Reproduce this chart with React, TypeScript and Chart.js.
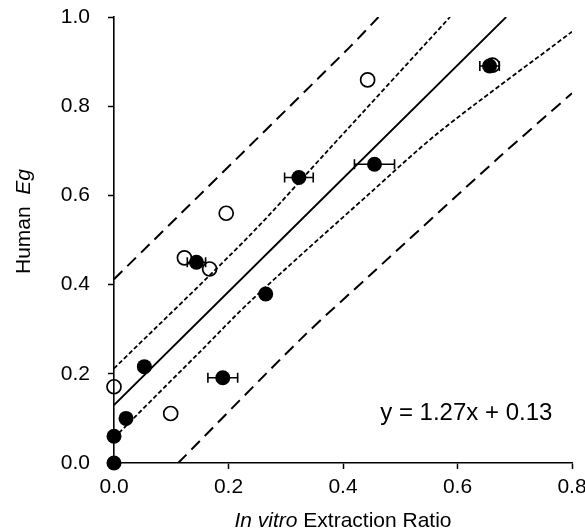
import { useEffect, useRef } from "react";
import { Chart, registerables } from "chart.js";

Chart.register(...registerables);

// Measured data (In vitro extraction ratio vs human Eg)
const filledX = [0, 0.0, 0.021, 0.053, 0.19, 0.265, 0.144, 0.323, 0.455, 0.656];
const filledY = [0, 0.06, 0.1, 0.216, 0.191, 0.379, 0.45, 0.64, 0.67, 0.89];
const filledXErr = [0, 0, 0, 0, 0.026, 0, 0.016, 0.025, 0.035, 0.017];
const openX = [0.0, 0.099, 0.123, 0.167, 0.196, 0.443, 0.661];
const openY = [0.171, 0.111, 0.46, 0.435, 0.56, 0.859, 0.892];

// Regression line and bands
const fitX = [0, 0.685];
const fitY = [0.13, 1.0];
const upperCIX = [0, 0.2376, 0.3773, 0.587];
const upperCIY = [0.212, 0.511, 0.706, 1.0];
const lowerCIX = [0, 0.034, 0.153, 0.2376, 0.447, 0.569, 0.8];
const lowerCIY = [0.056, 0.1, 0.253, 0.362, 0.605, 0.743, 0.967];
const upperPIX = [0, 0.4122, 0.462];
const upperPIY = [0.412, 0.933, 1.0];
const lowerPIX = [0.112, 0.328, 0.447, 0.674, 0.8];
const lowerPIY = [0, 0.28, 0.421, 0.687, 0.829];

const xTitleParts = [
  { text: "In vitro", italic: true },
  { text: " Extraction Ratio", italic: false },
];
const yTitleParts = [
  { text: "Human  ", italic: false },
  { text: "Eg", italic: true },
];
const equationText = "y = 1.27x + 0.13";
const equationPos = { x: 0.465, y: 0.0975 };

const FONT = 'Arial, "Liberation Sans", sans-serif';
const FS = 21;
const EQ_FS = 24;

const zip = (xs: number[], ys: number[]) => xs.map((x, i) => ({ x, y: ys[i] }));

function drawParts(ctx: CanvasRenderingContext2D, parts: { text: string; italic: boolean }[], cx: number, y: number) {
  let total = 0;
  const widths = parts.map((p) => {
    ctx.font = `${p.italic ? "italic " : ""}${FS}px ${FONT}`;
    const w = ctx.measureText(p.text).width;
    total += w;
    return w;
  });
  let x = cx - total / 2;
  parts.forEach((p, i) => {
    ctx.font = `${p.italic ? "italic " : ""}${FS}px ${FONT}`;
    ctx.fillText(p.text, x, y);
    x += widths[i];
  });
}

const errorBarPlugin = {
  id: "errorBars",
  beforeDatasetDraw(chart: any, args: any) {
    if (args.index !== 0) return;
    const ctx = chart.ctx;
    const xs = chart.scales.x;
    const ys = chart.scales.y;
    ctx.save();
    ctx.strokeStyle = "#000";
    ctx.lineWidth = 1.6;
    filledX.forEach((x, i) => {
      const e = filledXErr[i];
      if (!e) return;
      const y = ys.getPixelForValue(filledY[i]);
      const x1 = xs.getPixelForValue(x - e);
      const x2 = xs.getPixelForValue(x + e);
      ctx.beginPath();
      ctx.moveTo(x1, y);
      ctx.lineTo(x2, y);
      ctx.moveTo(x1, y - 5);
      ctx.lineTo(x1, y + 5);
      ctx.moveTo(x2, y - 5);
      ctx.lineTo(x2, y + 5);
      ctx.stroke();
    });
    ctx.restore();
  },
};

const textPlugin = {
  id: "texts",
  afterDraw(chart: any) {
    const ctx = chart.ctx;
    const ca = chart.chartArea;
    const xs = chart.scales.x;
    const ys = chart.scales.y;
    ctx.save();
    ctx.fillStyle = "#000";
    ctx.textBaseline = "alphabetic";
    ctx.textAlign = "left";
    // x title
    drawParts(ctx, xTitleParts, (ca.left + ca.right) / 2, chart.height - 5.5);
    // y title
    ctx.save();
    ctx.translate(30, 221.5);
    ctx.rotate(-Math.PI / 2);
    drawParts(ctx, yTitleParts, 0, 0);
    ctx.restore();
    // equation
    ctx.font = `${EQ_FS}px ${FONT}`;
    ctx.fillText(equationText, xs.getPixelForValue(equationPos.x), ys.getPixelForValue(equationPos.y));
    ctx.restore();
  },
};

export default function App() {
  const ref = useRef<HTMLCanvasElement | null>(null);
  useEffect(() => {
    if (!ref.current) return;
    Chart.defaults.font.family = FONT;
    Chart.defaults.font.size = FS;
    Chart.defaults.color = "#000";
    const lineDs = (xs: number[], ys: number[], dash: number[], width: number) => ({
      type: "line" as const,
      data: zip(xs, ys),
      showLine: true,
      borderColor: "#000",
      borderWidth: width,
      borderDash: dash,
      pointRadius: 0,
      fill: false,
      tension: 0.3,
    });
    const chart = new Chart(ref.current, {
      type: "scatter",
      data: {
        datasets: [
          {
            data: zip(filledX, filledY),
            pointRadius: 7.5,
            backgroundColor: "#000",
            borderColor: "#000",
            borderWidth: 0,
            clip: false as any,
          },
          {
            data: zip(openX, openY),
            pointRadius: 7,
            backgroundColor: "rgba(0,0,0,0)",
            borderColor: "#000",
            borderWidth: 1.7,
            clip: false as any,
          },
          lineDs(fitX, fitY, [], 1.8),
          lineDs(upperCIX, upperCIY, [4.5, 2.5], 1.8),
          lineDs(lowerCIX, lowerCIY, [4.5, 2.5], 1.8),
          lineDs(upperPIX, upperPIY, [12, 7], 2),
          lineDs(lowerPIX, lowerPIY, [12, 7], 2),
        ] as any,
      },
      options: {
        animation: false,
        responsive: false,
        maintainAspectRatio: false,
        layout: { padding: { left: 0, top: 17, right: 13, bottom: 0 } },
        plugins: { legend: { display: false }, tooltip: { enabled: false } },
        scales: {
          x: {
            type: "linear",
            min: 0,
            max: 0.8,
            ticks: { stepSize: 0.2, padding: 6, callback: (v: any) => Number(v).toFixed(1), font: { size: FS } },
            grid: { display: true, drawOnChartArea: false, drawTicks: true, tickLength: 6, tickColor: "#000", tickWidth: 1.5 },
            border: { display: true, color: "#000", width: 1.6 },
            afterFit: (s: any) => {
              s.height = 69;
              s.paddingLeft = 0;
              s.paddingRight = 0;
            },
          },
          y: {
            type: "linear",
            min: 0,
            max: 1.0,
            ticks: { stepSize: 0.2, padding: 18, callback: (v: any) => Number(v).toFixed(1), font: { size: FS } },
            grid: { display: true, drawOnChartArea: false, drawTicks: true, tickLength: 6, tickColor: "#000", tickWidth: 1.5 },
            border: { display: true, color: "#000", width: 1.6 },
            afterFit: (s: any) => {
              s.width = 114;
              s.paddingTop = 0;
              s.paddingBottom = 0;
            },
          },
        },
      } as any,
      plugins: [errorBarPlugin, textPlugin],
    });
    return () => chart.destroy();
  }, []);
  return (
    <div style={{ position: "fixed", left: 0, top: 0, width: 585, height: 532, background: "#fff" }}>
      <canvas ref={ref} width={585} height={532} style={{ width: 585, height: 532 }} />
    </div>
  );
}
